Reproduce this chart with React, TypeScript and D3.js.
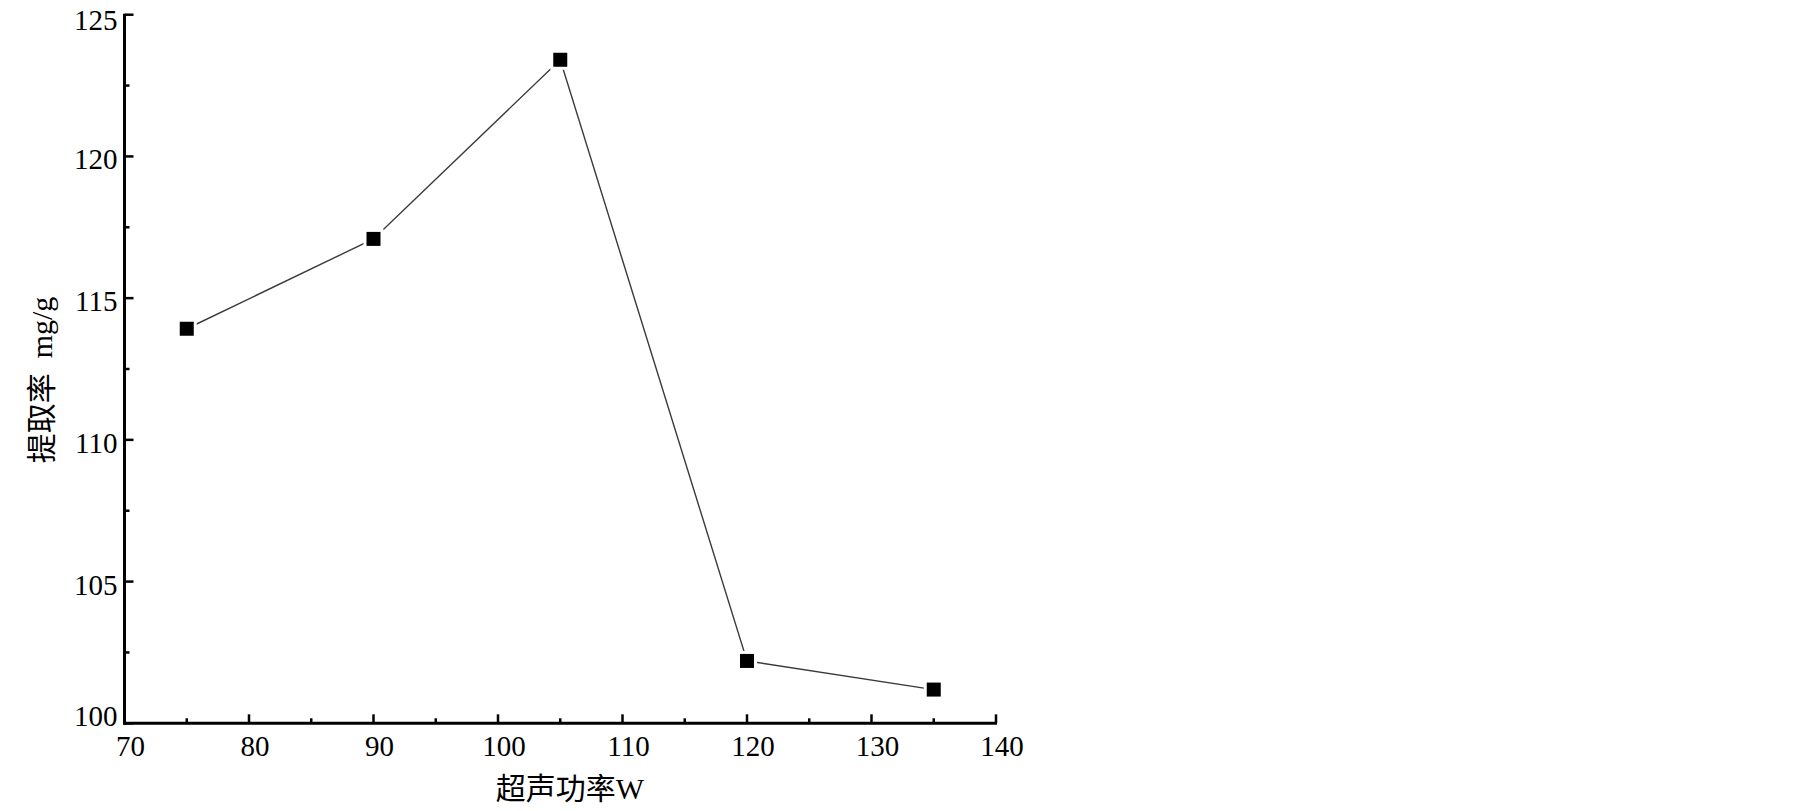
import React from "react";
import * as d3 from "d3";

const powerW = [75, 90, 105, 120, 135];
const extraction = [113.92, 117.09, 123.41, 102.2, 101.19];
const xTicks = [70, 80, 90, 100, 110, 120, 130, 140];
const yTicks = [100, 105, 110, 115, 120, 125];
const xMinor = [75, 85, 95, 105, 115, 125, 135];
const yMinor = [102.5, 107.5, 112.5, 117.5, 122.5];
const xTitle = "超声功率W";
const yTitle = "提取率  mg/g";

const W = 1805;
const H = 811;
const left = 124.5;
const right = 996;
const top = 14.7;
const bottom = 723.3;

export default function App() {
  const x = d3.scaleLinear().domain([70, 140]).range([left, right]);
  const y = d3.scaleLinear().domain([100, 125]).range([bottom, top]);
  const pts = powerW.map((p, i) => [x(p), y(extraction[i])] as [number, number]);
  const line = d3.line()(pts) || "";
  const font = "'Liberation Serif', 'Times New Roman', 'Noto Sans CJK SC', serif";
  const ms = 14;
  return (
    <svg width={W} height={H} style={{ position: "absolute", left: 0, top: 0, background: "#fff" }}>
      <rect x={0} y={0} width={W} height={H} fill="#fff" />
      <path d={line} fill="none" stroke="#3a3a3a" strokeWidth={1.4} />
      {pts.map(([px, py], i) => (
        <rect key={i} x={px - ms / 2} y={py - ms / 2} width={ms} height={ms} fill="#000"
          stroke="#fff" strokeWidth={6} style={{ paintOrder: "stroke" }} />
      ))}
      <line x1={left} x2={left} y1={top - 1} y2={bottom + 1.5} stroke="#000" strokeWidth={3} />
      <line x1={left - 1.5} x2={right + 1} y1={bottom} y2={bottom} stroke="#000" strokeWidth={3} />
      {yTicks.map((v) => (
        <line key={"yt" + v} x1={left} x2={left + 9} y1={y(v)} y2={y(v)} stroke="#000" strokeWidth={2.5} />
      ))}
      {yMinor.map((v) => (
        <line key={"ym" + v} x1={left} x2={left + 5} y1={y(v)} y2={y(v)} stroke="#000" strokeWidth={2.5} />
      ))}
      {xTicks.map((v) => (
        <line key={"xt" + v} x1={x(v)} x2={x(v)} y1={bottom} y2={bottom - 9} stroke="#000" strokeWidth={2.5} />
      ))}
      {xMinor.map((v) => (
        <line key={"xm" + v} x1={x(v)} x2={x(v)} y1={bottom} y2={bottom - 5} stroke="#000" strokeWidth={2.5} />
      ))}
      {yTicks.map((v) => (
        <text key={"yl" + v} x={left - 7} y={y(v) + (v === 100 ? 3 : v === 125 ? 15 : 13)} textAnchor="end"
          fontFamily={font} fontSize={29} fill="#000">{v}</text>
      ))}
      {xTicks.map((v) => (
        <text key={"xl" + v} x={x(v) + 6} y={756} textAnchor="middle" fontFamily={font} fontSize={29}
          fill="#000">{v}</text>
      ))}
      <text x={570} y={799} textAnchor="middle" fontFamily={font} fontSize={30} fill="#000">{xTitle}</text>
      <text transform={`translate(52,380) rotate(-90)`} textAnchor="middle" fontFamily={font} fontSize={30}
        fill="#000" style={{ whiteSpace: "pre" }}>{yTitle}</text>
    </svg>
  );
}
